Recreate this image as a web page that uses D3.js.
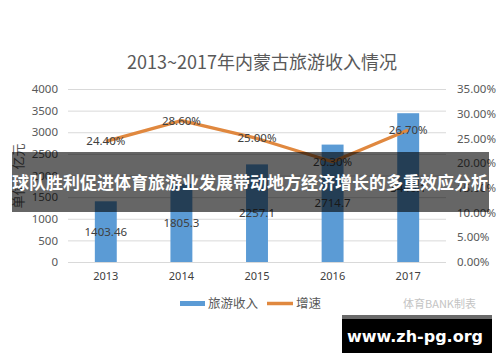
<!DOCTYPE html>
<html><head><meta charset="utf-8">
<script src="https://cdn.jsdelivr.net/npm/d3@7"></script>
<style>
body{margin:0;background:#fff;}
svg{display:block;font-family:"Noto Sans CJK SC","Noto Sans",sans-serif;}
</style></head>
<body><svg id="c" width="500" height="362"></svg>
<script>
const years = ["2013","2014","2015","2016","2017"];
const revenue = [1403.46, 1805.3, 2257.1, 2714.7, 3440.1];
const revenueLabels = ["1403.46","1805.3","2257.1","2714.7","3440.1"];
const growth = [0.244, 0.286, 0.25, 0.203, 0.267];
const growthLabels = ["24.40%","28.60%","25.00%","20.30%","26.70%"];
const leftTicks = [0,500,1000,1500,2000,2500,3000,3500,4000];
const rightTicks = [0,0.05,0.10,0.15,0.20,0.25,0.30,0.35];

const svg = d3.select("#c");
const L = 68, R = 446, T = 89, B = 262;
const x = d3.scaleBand().domain(years).range([L,R]).paddingInner(0.71).paddingOuter(0.355);
const y = d3.scaleLinear().domain([0,4000]).range([B,T]);
const y2 = d3.scaleLinear().domain([0,0.35]).range([B,T]);
const txt = "#595959";

// title
svg.append("text").attr("x",262).attr("y",69).attr("text-anchor","middle")
  .attr("font-size",18).attr("fill",txt).text("2013~2017年内蒙古旅游收入情况");

// gridlines
svg.append("g").selectAll("line").data(leftTicks).join("line")
  .attr("x1",L).attr("x2",R).attr("y1",d=>y(d)+0.5).attr("y2",d=>y(d)+0.5)
  .attr("stroke","#d9d9d9").attr("stroke-width",1);

// left axis
const la = svg.append("g").attr("transform",`translate(${L},0)`)
  .call(d3.axisLeft(y).tickValues(leftTicks).tickSize(0).tickPadding(10).tickFormat(d3.format("d")));
la.select(".domain").remove();
la.selectAll("text").attr("font-size",11.5).attr("fill",txt).attr("font-family","'Noto Sans',sans-serif");

// right axis
const ra = svg.append("g").attr("transform",`translate(${R},0)`)
  .call(d3.axisRight(y2).tickValues(rightTicks).tickSize(0).tickPadding(11).tickFormat(d3.format(".2%")));
ra.select(".domain").remove();
ra.selectAll("text").attr("font-size",11.5).attr("fill",txt).attr("font-family","'Noto Sans',sans-serif");

// x axis
const xa = svg.append("g").attr("transform",`translate(0,${B})`)
  .call(d3.axisBottom(x).tickSize(0).tickPadding(10));
xa.select(".domain").remove();
xa.selectAll("text").attr("font-size",11).attr("fill","#404040").attr("font-family","'Noto Sans',sans-serif");

// y axis title
svg.append("text").attr("transform","translate(23,176) rotate(-90)").attr("text-anchor","middle")
  .attr("font-size",13).attr("fill",txt).text("单位：亿元");

// bars
svg.append("g").selectAll("rect").data(years).join("rect")
  .attr("x",d=>x(d)).attr("width",x.bandwidth())
  .attr("y",(d,i)=>y(revenue[i])).attr("height",(d,i)=>B-y(revenue[i]))
  .attr("fill","#5b9bd5");

// bar labels
svg.append("g").selectAll("text").data(years).join("text")
  .attr("x",d=>x(d)+x.bandwidth()/2).attr("y",(d,i)=>(y(revenue[i])+B)/2+4)
  .attr("text-anchor","middle").attr("font-size",11.5).attr("fill","#404040")
  .attr("font-family","'Noto Sans',sans-serif").text((d,i)=>revenueLabels[i]);

// line
const line = d3.line().x((d,i)=>x(years[i])+x.bandwidth()/2).y(d=>y2(d));
svg.append("path").datum(growth).attr("d",line).attr("fill","none")
  .attr("stroke","#e0883f").attr("stroke-width",3.2).attr("stroke-linejoin","round");

svg.append("g").selectAll("text").data(growth).join("text")
  .attr("x",(d,i)=>x(years[i])+x.bandwidth()/2).attr("y",d=>y2(d)+4)
  .attr("text-anchor","middle").attr("font-size",11.5).attr("fill","#404040")
  .attr("font-family","'Noto Sans',sans-serif").text((d,i)=>growthLabels[i]);

// legend
svg.append("rect").attr("x",180).attr("y",301).attr("width",25).attr("height",5).attr("fill","#5b9bd5");
svg.append("text").attr("x",208).attr("y",308).attr("font-size",12.5).attr("fill",txt).text("旅游收入");
svg.append("line").attr("x1",267).attr("x2",293).attr("y1",303.5).attr("y2",303.5)
  .attr("stroke","#e0883f").attr("stroke-width",3.5);
svg.append("text").attr("x",296).attr("y",308).attr("font-size",12.5).attr("fill",txt).text("增速");
svg.append("text").attr("x",403).attr("y",308).attr("font-size",11).attr("fill","#c4c4c4").text("体育BANK制表");

// banner overlay
svg.append("rect").attr("x",12).attr("y",152).attr("width",477).attr("height",60)
  .attr("fill","#000").attr("fill-opacity",0.6);
svg.append("text").attr("x",250).attr("y",189).attr("text-anchor","middle")
  .attr("font-size",17).attr("font-weight","bold").attr("fill","#fff")
  .text("球队胜利促进体育旅游业发展带动地方经济增长的多重效应分析");

// watermark
svg.append("rect").attr("x",342).attr("y",315).attr("width",150).attr("height",38).attr("fill","#000");
svg.append("rect").attr("x",342).attr("y",315).attr("width",150).attr("height",4).attr("fill","#6a6a6a");
svg.append("text").attr("x",415).attr("y",342).attr("text-anchor","middle")
  .attr("font-size",16).attr("font-weight","bold").attr("fill","#fff")
  .attr("font-family","'DejaVu Sans','Noto Sans',sans-serif").text("www.zh-pg.org");
</script></body></html>
